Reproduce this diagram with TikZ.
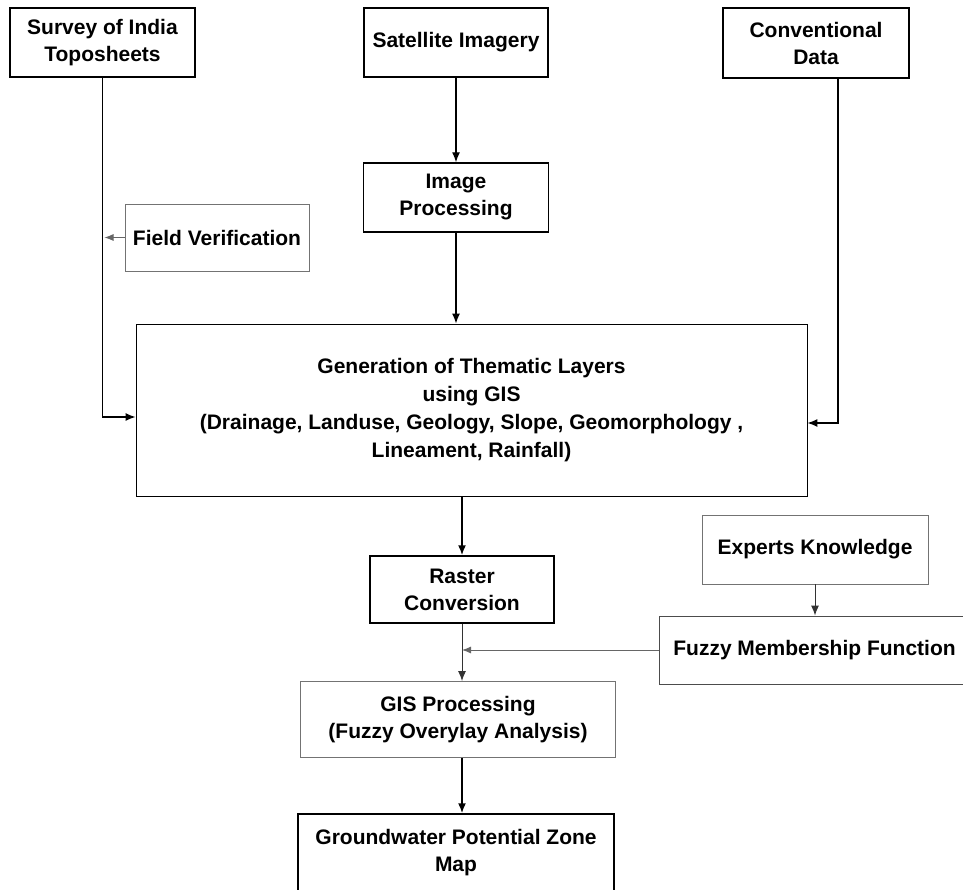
\documentclass[tikz,border=0pt]{standalone}
\usepackage{fontspec}
\setmainfont{Liberation Sans}
\usetikzlibrary{positioning,arrows.meta}

\begin{document}
\begin{tikzpicture}[x=1pt, y=-1pt, node distance=60pt, on grid,
    font=\fontsize{21}{27}\selectfont\bfseries,
    box/.style={draw, line width=1.4pt, align=center, inner sep=0pt},
    softbox/.style={draw=black!55, line width=0.9pt, align=center, inner sep=0pt},
    link/.style={->, line width=1.3pt},
    heavylink/.style={->, line width=1.8pt},
    softlink/.style={-{Latex[length=9pt,width=7pt]}, draw=black!60, line width=0.9pt},
    >={Latex[length=10pt,width=8pt]}]

    \useasboundingbox (0,0) rectangle (963,890);
    \clip (0,0) rectangle (963,890);

    % sources
    \node[box, minimum width=185pt, minimum height=69pt] (survey) at (102.5,42.5) {Survey of India\\Toposheets};
    \node[box, minimum width=184pt, minimum height=69pt] (satimg) at (456,42.5) {Satellite Imagery};
    \node[box, minimum width=186pt, minimum height=70pt] (convdata) at (816,43) {Conventional\\Data};

    \node[box, minimum width=185pt, minimum height=69pt] (imgproc) [below=155pt of satimg] {Image\\Processing};
    \node[softbox, minimum width=184pt, minimum height=67pt] (fieldver) at (217,237.5) {Field Verification};

    % layers
    \node[softbox, draw=black, minimum width=671pt, minimum height=172pt, font=\fontsize{21}{28}\selectfont\bfseries]
        (thematic) at (471.5,410) {Generation of Thematic Layers\\using GIS\\(Drainage, Landuse, Geology, Slope, Geomorphology ,\\Lineament, Rainfall)};

    \node[box, minimum width=184pt, minimum height=67pt] (raster) at (462,589.5) {Raster\\Conversion};
    \node[softbox, minimum width=226pt, minimum height=69pt] (experts) at (815,549.5) {Experts Knowledge};
    \node[softbox, draw=black!70, minimum width=311pt, minimum height=68pt] (fuzzy) at (814.5,650) {Fuzzy Membership Function};
    \node[softbox, minimum width=315pt, minimum height=76pt] (gisproc) at (458,719.5) {GIS Processing\\(Fuzzy Overylay Analysis)};
    \node[box, minimum width=316pt, minimum height=78pt] (gwmap) at (456,853) {Groundwater Potential Zone\\Map};

    \coordinate (convout) at ([xshift=22pt]convdata.south);

    \draw[link] (survey.south) |- ([yshift=-7pt]thematic.west);
    \draw[softlink, shorten >=2pt] (fieldver.west) -- (fieldver.west -| survey.south);
    \draw[link] (satimg) -- (imgproc);
    \draw[link] (imgproc) -- (imgproc |- thematic.north);
    \draw[link] (convout) |- ([yshift=-13pt]thematic.east);

    \draw[heavylink] (thematic.south -| raster) -- (raster.north);
    \draw[->, line width=1pt, draw=black!80] (raster) -- (raster |- gisproc.north);
    \draw[softlink] (fuzzy.west) -- (fuzzy.west -| raster);
    \draw[->, line width=1pt, draw=black!80] (experts.south) -- (experts.south |- fuzzy.north);
    \draw[heavylink] (gisproc.south -| raster) -- (gwmap.north -| raster);

\end{tikzpicture}
\end{document}
